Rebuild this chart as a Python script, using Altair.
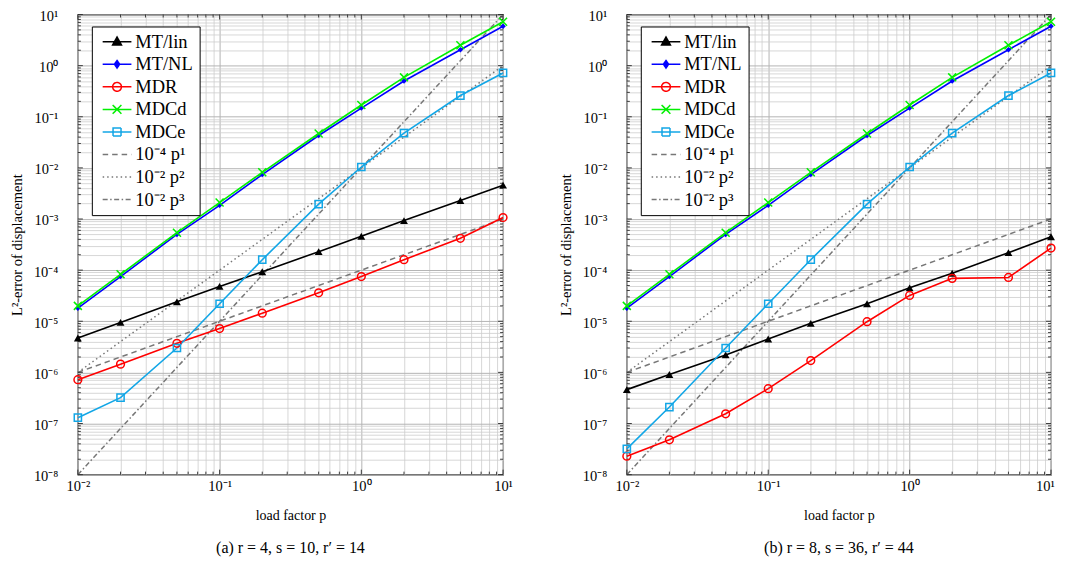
import altair as alt
import pandas as pd

# ---------------- data ----------------
p = [0.01, 0.02, 0.05, 0.1, 0.2, 0.5, 1, 2, 5, 10]

# panel (a): r = 4, s = 10, r' = 14
mt_lin_a = [4.7e-6, 9.5e-6, 2.4e-5, 4.8e-5, 9.3e-5, 2.3e-4, 4.6e-4, 9.3e-4, 2.3e-3, 4.6e-3]
mt_nl_a = [1.8e-5, 7.5e-5, 5.0e-4, 1.85e-3, 7.4e-3, 4.3e-2, 0.148, 0.50, 2.05, 5.9]
mdr_a = [7.2e-7, 1.45e-6, 3.7e-6, 7.2e-6, 1.44e-5, 3.6e-5, 7.5e-5, 1.6e-4, 4.2e-4, 1.07e-3]
mdcd_a = [2.0e-5, 8.3e-5, 5.4e-4, 2.1e-3, 8.2e-3, 4.7e-2, 0.17, 0.59, 2.5, 7.2]
mdce_a = [1.3e-7, 3.2e-7, 3.0e-6, 2.2e-5, 1.6e-4, 1.95e-3, 1.04e-2, 4.8e-2, 0.26, 0.72]

# panel (b): r = 8, s = 36, r' = 44
mt_lin_b = [4.6e-7, 9.1e-7, 2.2e-6, 4.5e-6, 9.1e-6, 2.2e-5, 4.5e-5, 8.7e-5, 2.2e-4, 4.5e-4]
mt_nl_b = [1.8e-5, 7.5e-5, 5.0e-4, 1.85e-3, 7.4e-3, 4.3e-2, 0.148, 0.50, 2.05, 5.9]
mdr_b = [2.3e-8, 4.8e-8, 1.55e-7, 4.8e-7, 1.7e-6, 9.8e-6, 3.2e-5, 6.9e-5, 7.2e-5, 2.7e-4]
mdcd_b = [2.0e-5, 8.3e-5, 5.4e-4, 2.1e-3, 8.2e-3, 4.7e-2, 0.17, 0.59, 2.5, 7.2]
mdce_b = [3.2e-8, 2.1e-7, 3.0e-6, 2.2e-5, 1.6e-4, 1.95e-3, 1.04e-2, 4.8e-2, 0.26, 0.72]

# reference slopes (end points)
p_ref = [0.01, 10]
ref_p1 = [1e-6, 1e-3]   # 1e-4 p^1
ref_p2 = [1e-6, 1.0]    # 1e-2 p^2
ref_p3 = [1e-8, 10.0]   # 1e-2 p^3

names = ["MT/lin", "MT/NL", "MDR", "MDCd", "MDCe", "10⁻⁴ p¹", "10⁻² p²", "10⁻² p³"]
captions = ["(a) r = 4, s = 10, r′ = 14", "(b) r = 8, s = 36, r′ = 44"]

# x / y axis tick values
x_major = [0.01, 0.1, 1, 10]
y_major = [10.0 ** e for e in range(-8, 2)]
x_minor = [m * 10.0 ** e for e in range(-2, 1) for m in range(2, 10)]
y_minor = [m * 10.0 ** e for e in range(-8, 1) for m in range(2, 10)]

# ---------------- styles ----------------
FONT = "Liberation Serif"
BLACK, BLUE, RED, GREEN, CYAN, GRAY = "#000000", "#0000ff", "#ff0000", "#00f000", "#12a6e6", "#777777"
line_colors = [BLACK, BLUE, RED, GREEN, CYAN, GRAY, GRAY, GRAY]
fills = [BLACK, BLUE, "transparent", "transparent", "transparent", "transparent", "transparent", "transparent"]
DASHED, DOTTED, DASHDOT = [5.5, 4], [1.5, 3], [5, 2.5, 1.5, 2.5]
dashes = [[1, 0], [1, 0], [1, 0], [1, 0], [1, 0], DASHED, DOTTED, DASHDOT]
LSEG = "M-3.6,0H3.6"
leg_shapes = [
    LSEG + "M0,-1.15L1.1,0.8L-1.1,0.8Z",
    LSEG + "M0,-0.95L0.65,0L0,0.95L-0.65,0Z",
    LSEG + "M1.1,0A1.1,1.1,0,1,1,-1.1,0A1.1,1.1,0,1,1,1.1,0Z",
    LSEG + "M-1.1,-1.1L1.1,1.1M-1.1,1.1L1.1,-1.1",
    LSEG + "M-1,-1H1V1H-1Z",
    LSEG, LSEG, LSEG,
]
XPATH = "M-1,-1L1,1M-1,1L1,-1"
TICK_COLOR = "#2a2a2a"
MAJ_LEN, MIN_LEN = 5, 3
PANEL_H = 461

SUP = "'' + round(log(datum.value) / LN10)"
for a, b in [("-", "⁻"), ("0", "⁰"), ("1", "¹"), ("2", "²"), ("3", "³"), ("4", "⁴"),
             ("5", "⁵"), ("6", "⁶"), ("7", "⁷"), ("8", "⁸"), ("9", "⁹")]:
    SUP = "replace(" + SUP + ", '" + a + "', '" + b + "')"
LBL = "'10' + " + SUP

SX = alt.Scale(type="log", domain=[0.01, 10], nice=False)
SY = alt.Scale(type="log", domain=[1e-8, 10], nice=False)


def x_axis(last_shift):
    return alt.Axis(orient="bottom", values=x_major, labelExpr=LBL, grid=True, gridColor="#b4b4b4",
                    gridWidth=1, ticks=False, domain=False, labelFont=FONT, labelFontSize=14.5,
                    labelColor="#000", labelPadding=5, labelFlush=False,
                    labelOffset={"condition": {"test": "datum.value >= 10", "value": last_shift}, "value": 0},
                    title="load factor p", titleFont=FONT,
                    titleFontSize=14, titleFontWeight=400, titleColor="#000", titlePadding=15)


AX_Y = alt.Axis(orient="left", values=y_major, labelExpr=LBL, grid=True, gridColor="#b4b4b4",
                gridWidth=1, ticks=False, domain=False, labelFont=FONT, labelFontSize=14.5,
                labelColor="#000", labelPadding=20, labelOffset=2, labelFlush=False,
                title="L²-error of displacement", titleFont=FONT,
                titleFontSize=14.5, titleFontWeight=400, titleColor="#000", titlePadding=9)
AX_XM = alt.Axis(orient="top", values=x_minor, grid=True, gridColor="#cdcdcd", gridWidth=0.8,
                 ticks=False, domain=False, labels=False, title=None, minExtent=0, maxExtent=0)
AX_YM = alt.Axis(orient="right", values=y_minor, grid=True, gridColor="#cdcdcd", gridWidth=0.8,
                 ticks=False, domain=False, labels=False, title=None, minExtent=0, maxExtent=0)

Y_MAIN = alt.Y("v:Q", scale=SY, axis=AX_Y)
X_MIN = alt.X("p:Q", scale=SX, axis=AX_XM)
Y_MIN = alt.Y("v:Q", scale=SY, axis=AX_YM)
X_N = alt.X("p:Q", scale=SX, axis=None)
Y_N = alt.Y("v:Q", scale=SY, axis=None)

LEG = alt.Legend(title=None, orient="none", legendX=14, legendY=12, fillColor="white",
                 strokeColor="#000", padding=6, cornerRadius=0, symbolSize=64, symbolOffset=10,
                 labelOffset=9, labelFont=FONT, labelFontSize=18.5, labelColor="#000", rowPadding=3.6,
                 symbolStrokeWidth=1.5, symbolFillColor="white", symbolOpacity=1, labelLimit=250)

point_styles = [
    dict(shape="triangle-up", filled=True, size=62),
    dict(shape="diamond", filled=True, size=30),
    dict(shape="circle", filled=False, size=60, strokeWidth=1.5),
    dict(shape=XPATH, filled=False, size=64, strokeWidth=1.5),
    dict(shape="square", filled=False, size=52, strokeWidth=1.5),
]


def tick_layers(width):
    """Inward tick marks on all four sides of the frame (pgfplots style)."""
    out = []
    for vals, ln in [(y_major, MAJ_LEN), (y_minor, MIN_LEN)]:
        d = pd.DataFrame({"v": vals})
        for x0, x1 in [(0, ln), (width - ln, width)]:
            out.append(alt.Chart(d).mark_rule(color=TICK_COLOR, strokeWidth=0.9)
                       .encode(y=Y_N, x=alt.value(x0), x2=alt.value(x1)))
    for vals, ln in [(x_major, MAJ_LEN), (x_minor, MIN_LEN)]:
        d = pd.DataFrame({"p": vals})
        for y0, y1 in [(0, ln), (PANEL_H - ln, PANEL_H)]:
            out.append(alt.Chart(d).mark_rule(color=TICK_COLOR, strokeWidth=0.9)
                       .encode(x=X_N, y=alt.value(y0), y2=alt.value(y1)))
    return out


def panel(series_vals, caption, width, last_shift):
    x_main = alt.X("p:Q", scale=SX, axis=x_axis(last_shift))
    ref_vals = [ref_p1, ref_p2, ref_p3]
    layers = []
    # dash-dot reference line carries the minor-grid axes
    layers.append(
        alt.Chart(pd.DataFrame({"p": p_ref, "v": ref_p3}))
        .mark_line(color=GRAY, strokeWidth=1.5, strokeDash=DASHDOT)
        .encode(x=X_MIN, y=Y_MIN)
    )
    # dashed reference line carries the main axes
    layers.append(
        alt.Chart(pd.DataFrame({"p": p_ref, "v": ref_p1}))
        .mark_line(color=GRAY, strokeWidth=1.5, strokeDash=DASHED)
        .encode(x=x_main, y=Y_MAIN)
    )
    layers.append(
        alt.Chart(pd.DataFrame({"p": p_ref, "v": ref_p2}))
        .mark_line(color=GRAY, strokeWidth=1.5, strokeDash=DOTTED)
        .encode(x=X_N, y=Y_N)
    )
    layers.extend(tick_layers(width))
    for vals, col in zip(series_vals, line_colors[:5]):
        layers.append(
            alt.Chart(pd.DataFrame({"p": p, "v": vals}))
            .mark_line(color=col, strokeWidth=1.6)
            .encode(x=X_N, y=Y_N)
        )
    for vals, col, st in zip(series_vals, line_colors[:5], point_styles):
        layers.append(
            alt.Chart(pd.DataFrame({"p": p, "v": vals}))
            .mark_point(color=col, opacity=1, **st)
            .encode(x=X_N, y=Y_N)
        )
    # legend carrier (no visible marks)
    long_rows = []
    for nm, vals in zip(names, list(series_vals) + ref_vals):
        long_rows.append(pd.DataFrame({"p": p if len(vals) == len(p) else p_ref, "v": vals, "series": nm}))
    legdf = pd.concat(long_rows, ignore_index=True)
    layers.append(
        alt.Chart(legdf)
        .transform_filter("false")
        .mark_point(filled=False, strokeWidth=1.5)
        .encode(
            x=X_N, y=Y_N,
            color=alt.Color("series:N", scale=alt.Scale(domain=names, range=line_colors), legend=LEG),
            fill=alt.Fill("series:N", scale=alt.Scale(domain=names, range=fills), legend=LEG),
            shape=alt.Shape("series:N", scale=alt.Scale(domain=names, range=leg_shapes), legend=LEG),
            strokeDash=alt.StrokeDash("series:N", scale=alt.Scale(domain=names, range=dashes), legend=LEG),
        )
    )
    return alt.layer(*layers).properties(
        width=width, height=PANEL_H,
        title=alt.TitleParams(text=caption, orient="bottom", font=FONT, fontSize=16,
                              fontWeight=400, color="#000", offset=18, anchor="middle", frame="group"),
    )


left = panel([mt_lin_a, mt_nl_a, mdr_a, mdcd_a, mdce_a], captions[0], 426, 0)
right = panel([mt_lin_b, mt_nl_b, mdr_b, mdcd_b, mdce_b], captions[1], 425, -6)

chart = (
    alt.hconcat(left, right, spacing=43)
    .resolve_scale(color="independent", fill="independent", shape="independent", strokeDash="independent")
    .resolve_legend(color="independent", fill="independent", shape="independent", strokeDash="independent")
    .properties(padding={"left": 0, "top": -1, "right": 0, "bottom": 0}, background="white")
    .configure_view(stroke="#1a1a1a", strokeWidth=1.2)
    .configure_axis(titleFontWeight=400)
)

chart.save("out.html", embed_options={"renderer": "svg", "actions": False})
